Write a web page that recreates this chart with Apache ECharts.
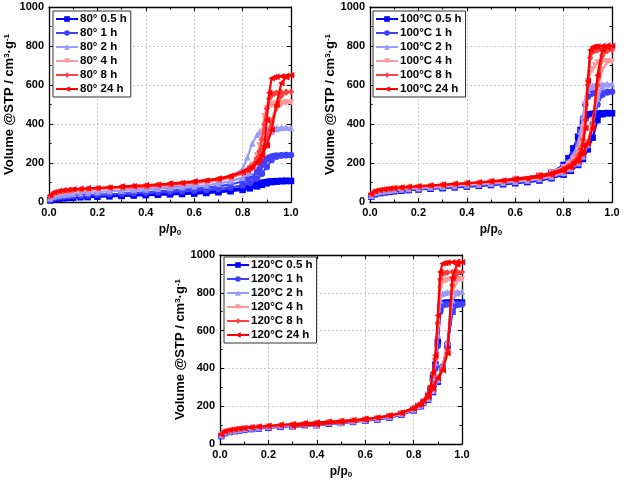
<!DOCTYPE html>
<html>
<head>
<meta charset="utf-8">
<script src="https://cdn.jsdelivr.net/npm/echarts@6/dist/echarts.min.js"></script>
<style>
  html, body { margin: 0; padding: 0; background: #fff; }
  #chart { width: 624px; height: 480px; }
</style>
</head>
<body>
<div id="chart"></div>
<script>
// relative pressure points: adsorption branch (up) and desorption branch (down)
const pAds = [0.005, 0.02, 0.04, 0.06, 0.08, 0.1, 0.13, 0.16, 0.2, 0.25, 0.3, 0.35, 0.4, 0.45, 0.5,
  0.55, 0.6, 0.65, 0.7, 0.75, 0.8, 0.83, 0.86, 0.88, 0.9, 0.92, 0.94, 0.96, 0.98, 1.0];
const pDes = [0.98, 0.96, 0.94, 0.93, 0.92, 0.91, 0.9, 0.89, 0.88, 0.87, 0.86, 0.84, 0.82, 0.8,
  0.75, 0.7, 0.6, 0.5, 0.4, 0.3];

const times = ["0.5 h", "1 h", "2 h", "4 h", "8 h", "24 h"];
const temps = ["80°", "100°C", "120°C"];
const xTicks = [0, 0.2, 0.4, 0.6, 0.8, 1.0];
const yTicks = [0, 200, 400, 600, 800, 1000];

// 80° samples, one row per time (0.5 h ... 24 h)
const ads80 = [
  [8, 14, 17, 19, 21, 22, 24, 25, 27, 29, 31, 33, 35, 37, 39, 41, 43, 46, 50, 55, 62, 70, 80, 88, 96, 102, 105, 107, 108, 108],
  [12, 20, 24, 27, 29, 31, 33, 35, 37, 40, 42, 45, 47, 50, 52, 55, 58, 62, 67, 74, 85, 98, 120, 145, 180, 215, 232, 238, 240, 241],
  [18, 28, 33, 37, 40, 42, 45, 48, 51, 55, 58, 61, 64, 68, 72, 76, 80, 86, 94, 106, 125, 150, 200, 260, 320, 360, 375, 380, 382, 380],
  [25, 38, 44, 48, 51, 54, 57, 60, 63, 67, 71, 75, 78, 82, 86, 90, 95, 102, 110, 122, 145, 170, 215, 270, 340, 420, 475, 500, 508, 510],
  [30, 45, 51, 55, 58, 61, 64, 67, 70, 74, 78, 82, 85, 89, 93, 97, 102, 108, 117, 130, 152, 180, 220, 265, 330, 410, 490, 545, 562, 565],
  [35, 50, 56, 60, 63, 66, 68, 70, 72, 75, 78, 81, 85, 89, 93, 98, 104, 110, 118, 132, 155, 175, 205, 240, 290, 370, 500, 610, 640, 650]
];
const des80 = [
  [108, 108, 107, 106, 105, 104, 102, 100, 97, 94, 90, 84, 78, 72, 62, 56, 50, 44, 38, 32],
  [241, 240, 238, 236, 233, 228, 220, 208, 190, 170, 152, 130, 115, 105, 90, 80, 68, 58, 50, 43],
  [382, 381, 380, 379, 378, 376, 374, 370, 365, 358, 345, 300, 230, 170, 130, 112, 92, 78, 68, 60],
  [510, 508, 505, 502, 498, 492, 480, 440, 360, 290, 240, 190, 160, 145, 125, 112, 97, 86, 77, 70],
  [565, 563, 560, 555, 548, 530, 480, 400, 320, 260, 225, 185, 160, 148, 128, 115, 100, 89, 80, 74],
  [648, 645, 642, 640, 635, 560, 420, 290, 240, 215, 200, 180, 165, 155, 135, 120, 106, 95, 86, 80]
];

// 100°C samples
const ads100 = [
  [28, 40, 45, 49, 52, 55, 58, 61, 64, 68, 71, 75, 79, 83, 87, 91, 96, 102, 110, 122, 140, 160, 190, 220, 270, 330, 420, 450, 455, 455],
  [30, 43, 48, 52, 55, 58, 61, 64, 67, 71, 74, 78, 82, 86, 90, 95, 100, 106, 114, 126, 145, 165, 195, 230, 290, 400, 500, 550, 562, 565],
  [32, 46, 51, 55, 58, 61, 64, 67, 70, 74, 78, 82, 86, 90, 94, 99, 104, 110, 118, 130, 150, 170, 200, 235, 295, 410, 530, 590, 602, 605],
  [36, 50, 56, 60, 63, 66, 69, 72, 75, 79, 83, 87, 91, 95, 99, 104, 109, 115, 123, 135, 155, 175, 205, 240, 300, 420, 560, 680, 715, 720],
  [40, 54, 60, 64, 67, 70, 73, 76, 79, 83, 87, 91, 95, 99, 103, 108, 113, 119, 127, 139, 158, 178, 208, 245, 305, 400, 600, 750, 775, 780],
  [42, 56, 62, 66, 69, 72, 75, 78, 81, 85, 89, 93, 97, 101, 105, 110, 115, 121, 129, 141, 160, 180, 210, 250, 300, 380, 650, 780, 795, 800]
];
const des100 = [
  [456, 455, 454, 453, 452, 450, 447, 430, 405, 370, 335, 275, 225, 190, 150, 132, 112, 98, 86, 76],
  [566, 565, 563, 561, 558, 552, 540, 500, 430, 360, 300, 240, 205, 180, 150, 135, 115, 101, 89, 80],
  [606, 605, 603, 600, 596, 588, 570, 520, 440, 360, 300, 240, 205, 182, 152, 137, 117, 103, 91, 82],
  [722, 720, 716, 700, 680, 660, 620, 500, 380, 310, 265, 220, 195, 178, 150, 137, 118, 104, 93, 85],
  [782, 780, 778, 775, 770, 740, 600, 420, 320, 270, 240, 205, 185, 172, 148, 136, 118, 105, 95, 88],
  [802, 800, 798, 797, 795, 780, 620, 380, 290, 250, 225, 200, 182, 170, 148, 136, 119, 106, 96, 89]
];

// 120°C samples
const ads120 = [
  [42, 58, 64, 68, 72, 75, 79, 82, 86, 91, 95, 100, 104, 108, 112, 117, 123, 130, 140, 155, 178, 200, 235, 275, 330, 400, 520, 700, 740, 748],
  [44, 60, 66, 70, 74, 77, 81, 84, 88, 93, 97, 102, 106, 110, 114, 119, 125, 132, 142, 157, 180, 202, 238, 278, 335, 410, 530, 700, 735, 740],
  [46, 62, 68, 72, 76, 79, 83, 86, 90, 95, 99, 104, 108, 112, 116, 121, 127, 134, 144, 159, 182, 205, 240, 282, 340, 410, 540, 760, 798, 805],
  [48, 64, 70, 74, 78, 81, 85, 88, 92, 97, 101, 106, 110, 114, 118, 123, 129, 136, 146, 161, 184, 208, 245, 288, 345, 400, 520, 800, 862, 870],
  [50, 66, 72, 76, 80, 83, 87, 90, 94, 99, 103, 108, 112, 116, 120, 125, 131, 138, 148, 163, 186, 210, 248, 292, 350, 400, 500, 840, 902, 910],
  [52, 68, 74, 78, 82, 85, 89, 92, 96, 101, 105, 110, 114, 118, 122, 127, 133, 140, 150, 165, 188, 212, 250, 295, 350, 390, 480, 880, 950, 962]
];
const des120 = [
  [750, 750, 748, 746, 742, 720, 540, 420, 350, 290, 255, 220, 200, 185, 160, 146, 126, 112, 100, 92],
  [742, 741, 740, 738, 735, 700, 520, 400, 340, 285, 250, 218, 198, 184, 159, 145, 126, 112, 100, 92],
  [806, 805, 803, 800, 795, 760, 580, 430, 350, 290, 255, 222, 200, 186, 160, 146, 127, 113, 101, 93],
  [872, 870, 868, 864, 858, 820, 620, 440, 360, 295, 260, 225, 203, 188, 162, 148, 128, 114, 102, 94],
  [912, 910, 908, 905, 900, 870, 640, 450, 370, 300, 262, 227, 205, 190, 163, 149, 129, 115, 103, 95],
  [964, 962, 960, 958, 955, 910, 680, 470, 380, 305, 265, 230, 208, 192, 165, 151, 130, 116, 104, 96]
];

const colors = ["#0000ff", "#4040ff", "#9999ff", "#ff9999", "#ff4040", "#ff0000"];
const symbols = ["rect", "circle", "triangle", "triangle", "diamond", "triangle"];
const rotations = [0, 0, 0, 180, 0, 90];

const FONT = "Liberation Sans";
const grids = [
  { left: 49, top: 7, width: 242, height: 195 },
  { left: 370, top: 7, width: 242, height: 195 },
  { left: 220, top: 255, width: 242, height: 194 }
];
const legendPos = [{ left: 53, top: 11 }, { left: 373, top: 11 }, { left: 224, top: 257 }];
const adsSets = [ads80, ads100, ads120];
const desSets = [des80, des100, des120];

const chart = echarts.init(document.getElementById("chart"), null, { renderer: "canvas" });

const xAxes = [], yAxes = [], series = [], legends = [];

function axisBase(min, max, interval) {
  return {
    min: min, max: max, interval: interval,
    axisLine: { show: true, onZero: false, lineStyle: { color: "#000", width: 1.3 } },
    axisTick: { show: true, inside: true, length: 4, lineStyle: { color: "#000", width: 1 } },
    minorTick: { show: true, splitNumber: 2, length: 2.5, lineStyle: { color: "#000", width: 1 } },
    splitLine: { show: false }
  };
}

grids.forEach((g, i) => {
  const xb = axisBase(xTicks[0], xTicks[xTicks.length - 1], 0.2);
  xAxes.push(Object.assign({}, xb, {
    type: "value", gridIndex: i, position: "bottom",
    name: "p/p{sub|0}", nameLocation: "middle", nameGap: 21,
    nameTextStyle: {
      fontFamily: FONT, fontWeight: "bold", fontSize: 12, color: "#000",
      rich: { sub: { fontFamily: FONT, fontWeight: "bold", fontSize: 8, verticalAlign: "bottom", padding: [6, 0, 0, 0], color: "#000" } }
    },
    axisLabel: { fontFamily: FONT, fontWeight: "bold", fontSize: 11, color: "#000", margin: 5,
      formatter: v => v.toFixed(1) },
    splitLine: { show: true, lineStyle: { color: "#c8c8c8", type: [2, 2], width: 1 } }
  }));
  xAxes.push(Object.assign({}, xb, {
    type: "value", gridIndex: i, position: "top", axisLabel: { show: false }
  }));
  const yb = axisBase(yTicks[0], yTicks[yTicks.length - 1], 200);
  yAxes.push(Object.assign({}, yb, {
    type: "value", gridIndex: i, position: "left",
    name: "Volume @STP / cm{sup|3}·g{sup|-1}", nameLocation: "middle", nameGap: 31, nameRotate: 90,
    nameTextStyle: {
      fontFamily: FONT, fontWeight: "bold", fontSize: 13, color: "#000",
      rich: { sup: { fontFamily: FONT, fontWeight: "bold", fontSize: 8, verticalAlign: "top", padding: [0, 0, 5, 0], color: "#000" } }
    },
    axisLabel: { fontFamily: FONT, fontWeight: "bold", fontSize: 11, color: "#000", margin: 5,
      formatter: v => String(v) },
    splitLine: { show: true, lineStyle: { color: "#c8c8c8", type: [2, 2], width: 1 } }
  }));
  yAxes.push(Object.assign({}, yb, {
    type: "value", gridIndex: i, position: "right", axisLabel: { show: false }
  }));

  const names = [];
  times.forEach((t, j) => {
    const name = temps[i] + " " + t;
    names.push(name);
    const data = pAds.map((p, k) => [p, adsSets[i][j][k]])
      .concat(pDes.map((p, k) => [p, desSets[i][j][k]]));
    series.push({
      type: "line", name: name,
      xAxisIndex: 2 * i, yAxisIndex: 2 * i,
      data: data,
      symbol: symbols[j], symbolRotate: rotations[j], symbolSize: 6.5,
      clip: false,
      color: colors[j],
      lineStyle: { color: colors[j], width: 2.2 },
      itemStyle: { color: colors[j] },
      emphasis: { disabled: true },
      z: 2 + j
    });
  });

  legends.push({
    left: legendPos[i].left, top: legendPos[i].top,
    orient: "vertical",
    data: names,
    backgroundColor: "#fff",
    borderColor: "#333", borderWidth: 1,
    padding: [2, 4, 2, 2],
    itemWidth: 22, itemHeight: 7, itemGap: 2,
    textStyle: { fontFamily: FONT, fontWeight: "bold", fontSize: 11.5, color: "#000", padding: [0, 0, 0, -3] },
    selectedMode: false
  });
});

chart.setOption({
  animation: false,
  backgroundColor: "#fff",
  grid: grids.map(g => Object.assign({ containLabel: false }, g)),
  xAxis: xAxes,
  yAxis: yAxes,
  legend: legends,
  series: series
});
</script>
</body>
</html>
